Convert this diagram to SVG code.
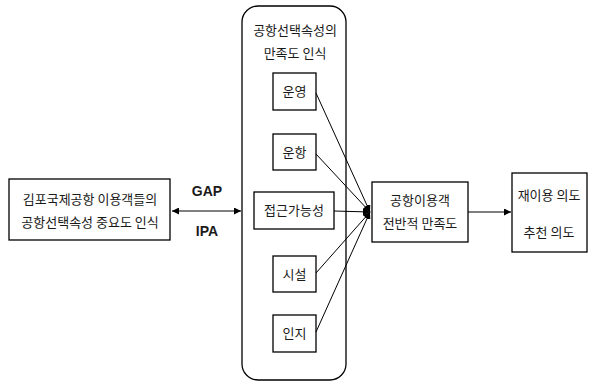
<svg xmlns="http://www.w3.org/2000/svg" width="591" height="382" viewBox="0 0 591 382">
<defs>
<marker id="ah" viewBox="0 0 10 10" refX="10" refY="5" markerWidth="7" markerHeight="7" markerUnits="userSpaceOnUse" orient="auto-start-reverse">
<path d="M0,0 L10,5 L0,10 Z" fill="#000"/>
</marker>
<style>
.box{fill:#fff;stroke:#000;stroke-width:1.3}
.t{font-family:"Noto Sans CJK KR","Noto Sans",sans-serif;font-size:13px;fill:#1a1a1a;text-anchor:middle}
.b{font-family:"Liberation Sans",Arial,sans-serif;font-size:14px;font-weight:bold;fill:#1a1a1a;text-anchor:middle}
.ln{stroke:#000;stroke-width:1;fill:none;marker-end:url(#ah)}
</style>
</defs>
<rect width="591" height="382" fill="#fff"/>
<g id="group-satisfaction">
<rect class="box" x="242" y="6" width="104" height="374" rx="16"/>
<text class="t" x="295" y="35">공항선택속성의</text>
<text class="t" x="295" y="58">만족도 인식</text>
</g>
<g id="node-importance">
<rect class="box" x="9" y="179" width="161" height="61"/>
<text class="t" x="90" y="204">김포국제공항 이용객들의</text>
<text class="t" x="90" y="227">공항선택속성 중요도 인식</text>
</g>
<g id="node-operation">
<rect class="box" x="273" y="73" width="43" height="37"/>
<text class="t" x="294.5" y="96">운영</text>
</g>
<g id="node-flight">
<rect class="box" x="273" y="134" width="43" height="36"/>
<text class="t" x="294.5" y="157">운항</text>
</g>
<g id="node-access">
<rect class="box" x="254" y="192" width="80" height="37"/>
<text class="t" x="294" y="215">접근가능성</text>
</g>
<g id="node-facility">
<rect class="box" x="273" y="256" width="43" height="36"/>
<text class="t" x="294.5" y="279">시설</text>
</g>
<g id="node-awareness">
<rect class="box" x="273" y="315" width="43" height="37"/>
<text class="t" x="294.5" y="338">인지</text>
</g>
<g id="node-overall">
<rect class="box" x="372" y="182" width="96" height="60"/>
<text class="t" x="420" y="205">공항이용객</text>
<text class="t" x="420" y="228">전반적 만족도</text>
</g>
<g id="node-intention">
<rect class="box" x="512" y="173" width="75" height="79"/>
<text class="t" x="549" y="200">재이용 의도</text>
<text class="t" x="549" y="237">추천 의도</text>
</g>
<g id="connectors">
<line class="ln" x1="172" y1="211" x2="241" y2="211" style="marker-start:url(#ah)"/>
<text class="b" x="207" y="196">GAP</text>
<text class="b" x="207" y="236">IPA</text>
<line class="ln" x1="316" y1="93" x2="370" y2="212"/>
<line class="ln" x1="316" y1="154" x2="370" y2="212"/>
<line class="ln" x1="334" y1="211" x2="370" y2="212"/>
<line class="ln" x1="316" y1="273" x2="370" y2="212"/>
<line class="ln" x1="316" y1="332" x2="370" y2="212"/>
<line class="ln" x1="468" y1="212" x2="511" y2="212"/>
</g>
</svg>
